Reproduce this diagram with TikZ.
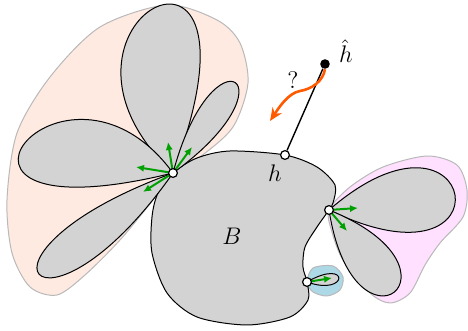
\documentclass[tikz,border=0pt]{standalone}
\usetikzlibrary{arrows.meta}
\begin{document}
\begin{tikzpicture}[
		x=0.5pt,y=-0.5pt,
		every node/.style={font=\large},
		vung/.style={line width=0.5pt},
		canh/.style={fill=MauXam,draw=black,line width=0.5pt},
		dinh/.style={circle,draw=black,fill=white,line width=0.6pt,inner sep=0pt,minimum size=4.4pt},
		muiten/.style={draw=MauLuc,line width=1pt,-{Latex[length=4pt,width=3.6pt]}}
	]
		\definecolor{MauXam}{RGB}{211,211,211}
		\definecolor{MauHong}{RGB}{254,234,225}
		\definecolor{MauTim}{RGB}{255,224,255}
		\definecolor{MauLam}{RGB}{173,216,230}
		\definecolor{MauVien}{RGB}{185,185,185}
		\definecolor{MauLuc}{RGB}{0,160,0}
		\definecolor{MauCam}{RGB}{255,90,0}
		\useasboundingbox (0,0) rectangle (468,331);
		\coordinate (p1) at (173,173);
		\coordinate (p2) at (329,210);
		\coordinate (p3) at (307,282);
		\coordinate (ph) at (285,155);
		\draw[vung,fill=MauHong,draw=MauVien] plot[smooth cycle] coordinates {
			(173,173) (153,200) (120,240) (85,275) (57,295) (30,287) (12,253)
			(7,200) (17,133) (50,77) (100,27) (167,5) (217,20) (240,43)
			(248,83) (233,127) (200,157)};
		\draw[vung,fill=MauTim,draw=MauVien] plot[smooth cycle] coordinates {
			(329,210) (350,187) (383,167) (427,156) (457,165) (467,190)
			(463,217) (440,243) (425,265) (410,293) (390,303) (370,293)
			(343,260) (332,232)};
		\draw[vung,fill=MauLam,draw=MauVien] plot[smooth cycle] coordinates {
			(307,282) (313,268) (333,266) (343,277) (340,290) (327,296) (313,292)};
		\draw[canh] plot[smooth cycle] coordinates {
			(173,173) (197,158) (230,151) (285,155) (317,167) (335,185)
			(333,203) (329,210) (317,227) (305,247) (303,267) (307,282)
			(308,300) (290,317) (247,325) (197,317) (167,293) (152,253)
			(152,217) (158,193)};
		\draw[canh] (p1) .. controls +(-160,-150) and +(110,-290) .. (p1);
		\draw[canh] (p1) .. controls +(40,-150) and +(126,-91) .. (p1);
		\draw[canh] (p1) .. controls +(-110,-150) and +(-285,70) .. (p1);
		\draw[canh] (p1) .. controls +(-225,82) and +(-132,188) .. (p1);
		\draw[canh] (p2) .. controls +(150,-130) and +(186,90) .. (p2);
		\draw[canh] (p2) .. controls +(149,60) and +(25,159) .. (p2);
		\draw[canh] (p3) .. controls +(43,-25) and +(42,15) .. (p3);
		\foreach \d in {(-5,-31),(19,-26),(-37,-6),(-30,19)}
			\draw[muiten] (p1) -- ++\d;
		\foreach \d in {(29,-2),(18,21)}
			\draw[muiten] (p2) -- ++\d;
		\draw[muiten] (p3) -- ++(25,-4);
		\node[dinh] (v1) at (p1) {};
		\node[dinh] (v2) at (p2) {};
		\node[dinh] (v3) at (p3) {};
		\node[dinh] (h) at (ph) {};
		\node[circle,fill=black,inner sep=0pt,minimum size=4.8pt] (hh) at (325,64) {};
		\draw[line width=0.7pt] (h) -- (hh);
		\coordinate (w) at (300,91);
		\coordinate (q) at (270,121);
		\draw[MauCam,line width=1.3pt,-{Stealth[length=6.5pt,width=5.5pt]}]
			(hh.south) .. controls +(-2,12) and +(12,-2) .. (w)
			.. controls +(-12,2) and +(8,-12) .. (q);
		\node (lh) at (275,173) {$h$};
		\node[inner sep=1pt] (lhh) at (346,51) {$\hat{h}$};
		\node (lb) at (232,236) {$B$};
		\node (lq) at (293,80) {?};
	\end{tikzpicture}
\end{document}
